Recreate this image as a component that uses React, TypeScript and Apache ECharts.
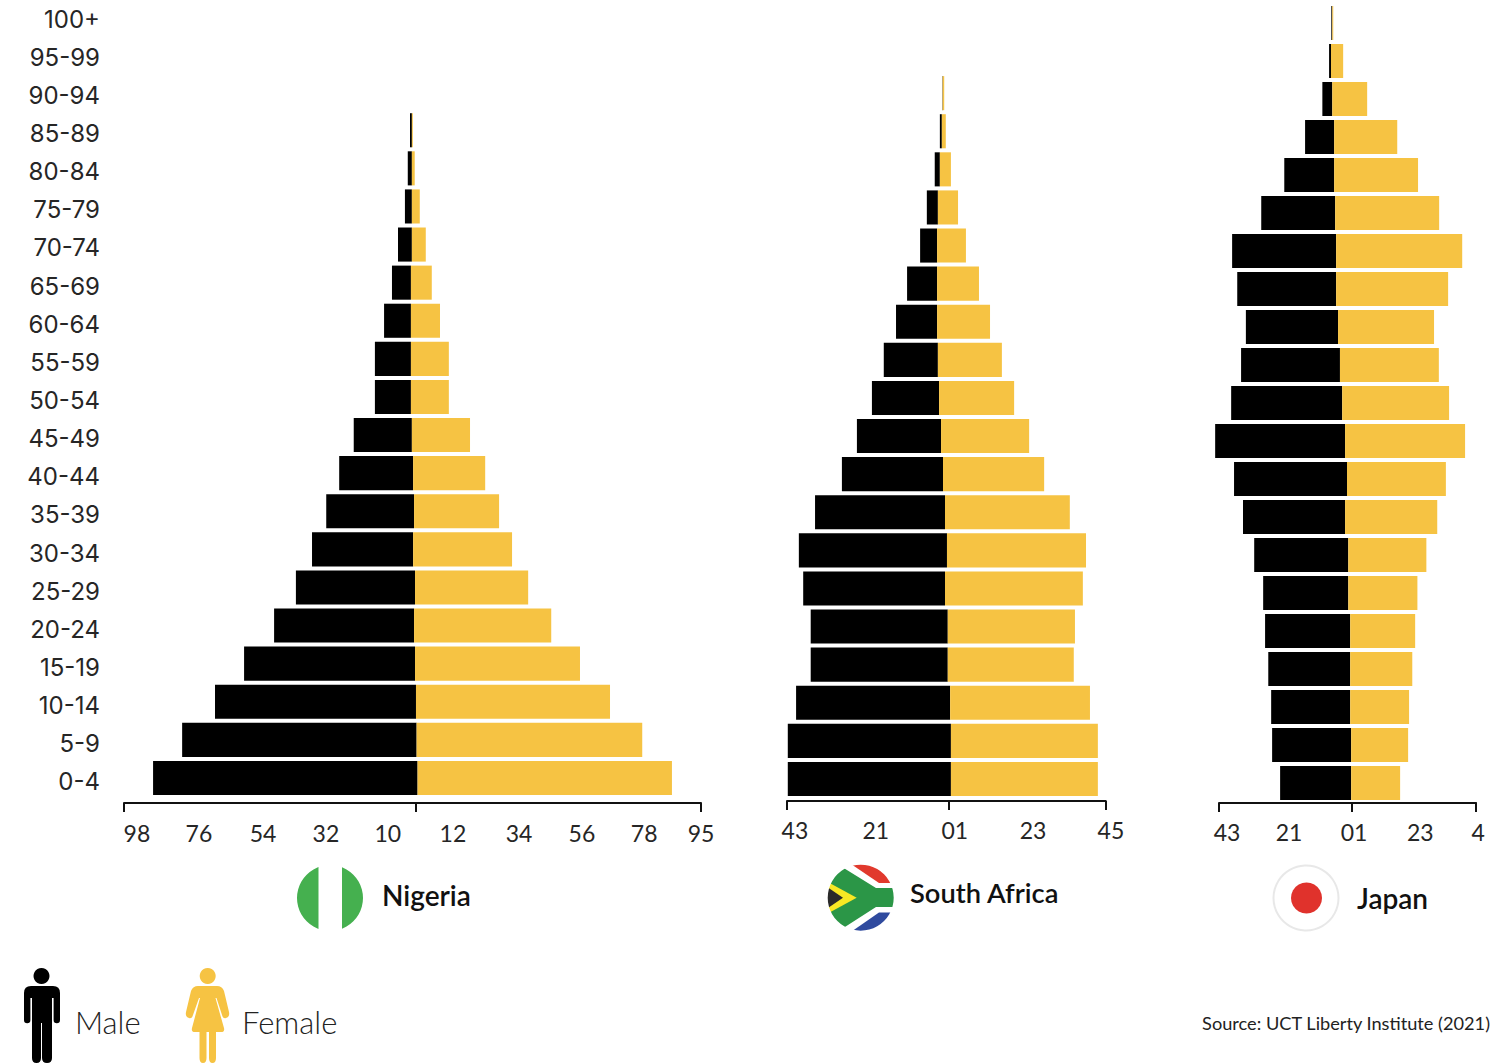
import React, { useEffect, useRef } from "react";
import * as echarts from "echarts";

// Age bands, youngest first (the category axis grows upward).
const ageGroups = ["0-4", "5-9", "10-14", "15-19", "20-24", "25-29", "30-34", "35-39", "40-44", "45-49", "50-54", "55-59", "60-64", "65-69", "70-74", "75-79", "80-84", "85-89", "90-94", "95-99", "100+"];

// Share of population per band (%), plus the slight sideways shift of each row's male/female divide.
const nigeriaMale = [8.37, 7.42, 6.36, 5.41, 4.43, 3.77, 3.2, 2.78, 2.34, 1.84, 1.14, 1.14, 0.85, 0.6, 0.44, 0.22, 0.13, 0.06];
const nigeriaFemale = [8.05, 7.14, 6.14, 5.22, 4.34, 3.58, 3.13, 2.69, 2.28, 1.84, 1.2, 1.2, 0.92, 0.66, 0.44, 0.25, 0.09, 0.03];
const nigeriaShift = [0.05, 0.02, 0, -0.03, -0.06, -0.03, -0.09, -0.06, -0.09, -0.13, -0.16, -0.16, -0.16, -0.16, -0.13, -0.13, -0.13, -0.13];

const southAfricaMale = [4.13, 4.13, 3.9, 3.47, 3.47, 3.59, 3.75, 3.29, 2.56, 2.13, 1.7, 1.37, 1.04, 0.76, 0.43, 0.28, 0.13, 0.05, 0.01];
const southAfricaFemale = [3.72, 3.72, 3.54, 3.19, 3.22, 3.49, 3.52, 3.16, 2.56, 2.23, 1.9, 1.62, 1.34, 1.06, 0.73, 0.51, 0.28, 0.1, 0.04];
const southAfricaShift = [0.05, 0.05, 0.03, -0.03, -0.03, -0.1, -0.05, -0.1, -0.15, -0.2, -0.25, -0.28, -0.3, -0.3, -0.3, -0.28, -0.23, -0.18, -0.16];

const japanMale = [2.22, 2.47, 2.47, 2.56, 2.66, 2.66, 2.94, 3.19, 3.53, 4.06, 3.47, 3.09, 2.88, 3.09, 3.25, 2.31, 1.56, 0.91, 0.31, 0.06, 0.03];
const japanFemale = [1.53, 1.78, 1.84, 1.94, 2.03, 2.16, 2.44, 2.88, 3.09, 3.75, 3.34, 3.09, 3.0, 3.5, 3.94, 3.25, 2.62, 1.97, 1.09, 0.38, 0.03];
const japanShift = [-0.03, -0.03, -0.06, -0.06, -0.06, -0.12, -0.12, -0.22, -0.16, -0.22, -0.31, -0.38, -0.44, -0.5, -0.5, -0.53, -0.56, -0.56, -0.62, -0.66, -0.62];

// Tick labels under each axis and the axis values they sit at.
const nigeriaTickLabels = ["98", "76", "54", "32", "10", "12", "34", "56", "78", "95"];
const nigeriaTickValues = [-8.83, -6.87, -4.84, -2.85, -0.89, 1.17, 3.26, 5.25, 7.22, 9.02];
const southAfricaTickLabels = ["43", "21", "01", "23", "45"];
const southAfricaTickValues = [-3.9, -1.85, 0.15, 2.13, 4.1];
const japanTickLabels = ["43", "21", "01", "23", "4"];
const japanTickValues = [-3.91, -1.97, 0.06, 2.13, 3.94];

const MALE = "#000000";
const FEMALE = "#F6C343";
const INK = "#262626";
const FONT = "Lato, 'Noto Sans', sans-serif";
const AGE_FONT = "Inter, Lato, sans-serif";

const pyramids = [
  { name: "Nigeria", male: nigeriaMale, female: nigeriaFemale, shift: nigeriaShift, labels: nigeriaTickLabels, values: nigeriaTickValues, left: 124, unit: 31.6, min: -9.24, max: 9.02, band: 38.1, rowsBottom: 797, axisY: 803, labelMargin: 18 },
  { name: "South Africa", male: southAfricaMale, female: southAfricaFemale, shift: southAfricaShift, labels: southAfricaTickLabels, values: southAfricaTickValues, left: 787, unit: 39.5, min: -4.1, max: 3.97, band: 38.1, rowsBottom: 798, axisY: 801, labelMargin: 17 },
  { name: "Japan", male: japanMale, female: japanFemale, shift: japanShift, labels: japanTickLabels, values: japanTickValues, left: 1219, unit: 32, min: -4.16, max: 3.875, band: 38, rowsBottom: 802, axisY: 803, labelMargin: 17 },
];

const MALE_ICON =
  "M31 986 H53 Q60 986 60 993 V1020 A3.2 3.2 0 0 1 53.6 1020 V998 H52 V1058 Q52 1063 47 1063 Q42 1063 42 1058 V1023 H41 V1058 Q41 1063 36.5 1063 Q32 1063 32 1058 V998 H30.4 V1020 A3.2 3.2 0 0 1 24 1020 V993 Q24 986 31 986 Z";
const FEMALE_ICON =
  "M198 986 H217 Q222 986 224 991 L229 1012 Q230 1017 226 1018 Q223 1019 222 1015 L216.5 998 L215.5 998 L224 1028 Q225 1032 221 1032 H216 V1058 Q216 1063 212.5 1063 Q209 1063 209 1058 V1032 H206.5 V1058 Q206.5 1063 203 1063 Q199.5 1063 199.5 1058 V1032 H195 Q191 1032 192 1028 L200 998 L199 998 L193 1015 Q192 1019 189 1018 Q185 1017 186 1012 L191 991 Q193 986 198 986 Z";

echarts.graphic.registerShape("maleIcon", echarts.graphic.extendPath(MALE_ICON, {}));
echarts.graphic.registerShape("femaleIcon", echarts.graphic.extendPath(FEMALE_ICON, {}));

function poly(points: number[][], fill: string) {
  return { type: "polygon", shape: { points }, style: { fill } };
}

function caption(text: string, x: number, y: number, size: number, weight: number, align = "left", fill = INK) {
  return { type: "text", style: { text, x, y, font: `${weight} ${size}px ${FONT}`, fill, align, verticalAlign: "middle" } };
}

function buildGraphic() {
  const nigeria = [
    { type: "circle", shape: { cx: 330, cy: 898, r: 33 }, style: { fill: "#45B04F" } },
    { type: "rect", shape: { x: 318.5, y: 864, width: 23.5, height: 68 }, style: { fill: "#ffffff" } },
  ];
  // The flag's bands are cut to a disc by a white ring laid over them.
  const southAfrica = [
    { type: "rect", shape: { x: 825, y: 862, width: 72, height: 72 }, style: { fill: "#ffffff" } },
    poly([[848, 862], [897, 862], [897, 883], [879, 883]], "#E1392D"),
    poly([[879, 912.5], [897, 912.5], [897, 934], [848, 934]], "#2F4A9E"),
    poly([[825, 862], [834, 862], [876, 888], [897, 888], [897, 907], [876, 907], [834, 934], [825, 934]], "#2B9647"),
    poly([[825, 880.5], [856.7, 897.7], [825, 915]], "#F8E824"),
    poly([[825, 885.5], [843, 897.7], [825, 910]], "#2A2A2A"),
    { type: "ring", shape: { cx: 860.7, cy: 897.7, r: 54, r0: 33 }, style: { fill: "#ffffff" } },
  ];
  const japan = [
    { type: "circle", shape: { cx: 1306, cy: 898, r: 32.5 }, style: { fill: "#ffffff", stroke: "#E8E8E8", lineWidth: 2 } },
    { type: "circle", shape: { cx: 1306.5, cy: 898, r: 15.5 }, style: { fill: "#E0322C" } },
  ];
  const people = [
    { type: "circle", shape: { cx: 41.5, cy: 976, r: 8 }, style: { fill: MALE } },
    { type: "maleIcon", x: 0, y: 0, style: { fill: MALE } },
    { type: "circle", shape: { cx: 207.7, cy: 976, r: 8 }, style: { fill: FEMALE } },
    { type: "femaleIcon", x: 0, y: 0, style: { fill: FEMALE } },
  ];
  const captions = [
    caption("Nigeria", 382, 895, 28, 600, "left", "#111"),
    caption("South Africa", 910, 892, 27.3, 600, "left", "#111"),
    caption("Japan", 1357, 898, 28, 600, "left", "#111"),
    caption("Male", 75, 1022, 31, 300, "left", "#222"),
    caption("Female", 242, 1022, 31, 300, "left", "#222"),
    caption("Source: UCT Liberty Institute (2021)", 1490, 1023, 18.2, 400, "right", "#222"),
  ];
  return [...nigeria, ...southAfrica, ...japan, ...people, ...captions].map((el, i) => ({ ...el, z: 10 + i }));
}

// Rows are drawn as rects from the axis scales, since each one starts at its own shifted divide.
function sideSeries(name: string, color: string, grid: number, data: number[][]) {
  return {
    type: "custom",
    name,
    xAxisIndex: grid,
    yAxisIndex: grid,
    encode: { x: [1, 2], y: 0 },
    data,
    clip: false,
    renderItem: (_: any, api: any) => {
      const row = api.value(0);
      const a = api.coord([api.value(1), row]);
      const b = api.coord([api.value(2), row]);
      const h = api.size([0, 1])[1] * (34 / 38);
      return {
        type: "rect",
        shape: { x: Math.min(a[0], b[0]), y: a[1] - h / 2, width: Math.abs(b[0] - a[0]), height: h },
        style: { fill: color },
      };
    },
  };
}

function buildOption() {
  const grids: any[] = [];
  const xAxes: any[] = [];
  const yAxes: any[] = [];
  const series: any[] = [];

  pyramids.forEach((p, i) => {
    const rows = p.male.length;
    const width = (p.max - p.min) * p.unit;
    const height = rows * p.band;
    grids.push({ left: p.left, width, top: p.rowsBottom - height, height });
    xAxes.push({
      type: "value",
      gridIndex: i,
      min: p.min,
      max: p.max,
      offset: p.axisY - p.rowsBottom,
      splitLine: { show: false },
      axisLine: { show: true, onZero: false, lineStyle: { color: "#111", width: 2 } },
      axisTick: { show: true, length: 9, lineStyle: { color: "#111", width: 2 }, customValues: [p.min, 0, p.max] },
      axisLabel: { show: false },
    });
    yAxes.push({ type: "category", gridIndex: i, data: ageGroups.slice(0, rows), show: false });

    const males = p.male.map((v, r) => [r, p.shift[r] - v, p.shift[r]]);
    const females = p.female.map((v, r) => [r, p.shift[r], p.shift[r] + v]);
    series.push(sideSeries("Male", MALE, i, males), sideSeries("Female", FEMALE, i, females));
  });

  // Tick labels live on their own wider axes: some sit past the ends of the ruled axis.
  const pad = 0.5;
  pyramids.forEach((p) => {
    const index = grids.length;
    grids.push({ left: p.left - pad * p.unit, width: (p.max - p.min + 2 * pad) * p.unit, top: p.axisY - 20, height: 20 });
    xAxes.push({
      type: "value",
      gridIndex: index,
      min: p.min - pad,
      max: p.max + pad,
      splitLine: { show: false },
      axisLine: { show: false },
      axisTick: { show: false },
      axisLabel: {
        show: true,
        margin: p.labelMargin,
        fontFamily: FONT,
        fontSize: 23,
        color: INK,
        customValues: p.values,
        formatter: (v: number) => p.labels[p.values.indexOf(v)] ?? "",
      },
    });
    yAxes.push({ type: "value", gridIndex: index, show: false, min: 0, max: 1 });
  });

  // Age labels down the left edge of the page.
  const ageGrid = grids.length;
  grids.push({ left: 100, width: 1, top: 0, height: 801 });
  xAxes.push({ type: "value", gridIndex: ageGrid, show: false, min: 0, max: 1 });
  yAxes.push({
    type: "category",
    gridIndex: ageGrid,
    data: ageGroups,
    axisLine: { show: false },
    axisTick: { show: false },
    splitLine: { show: false },
    axisLabel: { show: true, interval: 0, margin: 0, align: "right", padding: [0, 0, 2, 0], fontFamily: AGE_FONT, fontSize: 24, color: INK },
  });

  return { animation: false, backgroundColor: "#ffffff", grid: grids, xAxis: xAxes, yAxis: yAxes, series, graphic: { elements: buildGraphic() } };
}

export default function App() {
  const ref = useRef<HTMLDivElement>(null);
  useEffect(() => {
    document.body.style.margin = "0";
    const chart = echarts.init(ref.current!, undefined, { renderer: "svg" });
    chart.setOption(buildOption() as any);
    return () => chart.dispose();
  }, []);
  return <div ref={ref} style={{ width: 1497, height: 1063 }} />;
}
